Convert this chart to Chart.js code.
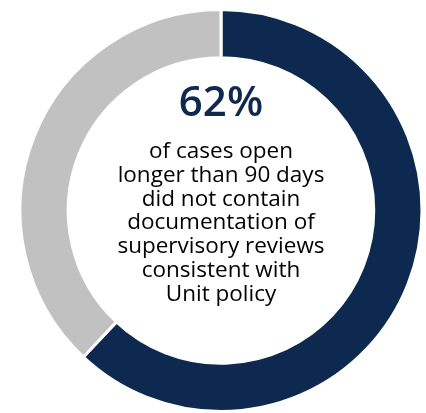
<!DOCTYPE html>
<html>
<head>
<meta charset="utf-8">
<script src="https://cdn.jsdelivr.net/npm/chart.js@4"></script>
<style>
  html, body { margin: 0; padding: 0; background: #fff; }
  #wrap { width: 426px; height: 413px; }
</style>
</head>
<body>
<div id="wrap"><canvas id="grafico"></canvas></div>
<script>
// dados do grafico
const categorias = ['Sem documentação de revisão', 'Com documentação']
const valores = [62, 38]
const cores = ['#0e2950', '#c1c1c1']
const destaque = '62%'
const linhas = [
  'of cases open',
  'longer than 90 days',
  'did not contain',
  'documentation of',
  'supervisory reviews',
  'consistent with',
  'Unit policy'
]

const textoCentro = {
  id: 'textoCentro',
  afterDraw(chart) {
    const ctx = chart.ctx
    const arc = chart.getDatasetMeta(0).data[0]
    const cx = arc.x
    const cy = arc.y
    ctx.save()
    ctx.textAlign = 'center'
    ctx.textBaseline = 'middle'
    ctx.fillStyle = '#0e2950'
    ctx.font = '600 42px "Open Sans"'
    ctx.fillText(destaque, cx, cy - 106)
    ctx.fillStyle = '#000'
    ctx.font = '22.5px "Open Sans"'
    linhas.forEach((l, i) => {
      ctx.fillText(l, cx, cy - 59 + i * 23.8)
    })
    ctx.restore()
  }
}

const ctx = document.getElementById('grafico')

new Chart(ctx, {
  type: 'doughnut',
  data: {
    labels: categorias,
    datasets: [{
      data: valores,
      backgroundColor: cores,
      borderColor: '#fff',
      borderWidth: 3
    }]
  },
  options: {
    responsive: true,
    maintainAspectRatio: false,
    animation: false,
    cutout: '76%',
    layout: { padding: { left: 16, right: 0, top: 8, bottom: 0 } },
    plugins: {
      legend: { display: false },
      tooltip: { enabled: false }
    }
  },
  plugins: [textoCentro]
})
</script>
</body>
</html>
